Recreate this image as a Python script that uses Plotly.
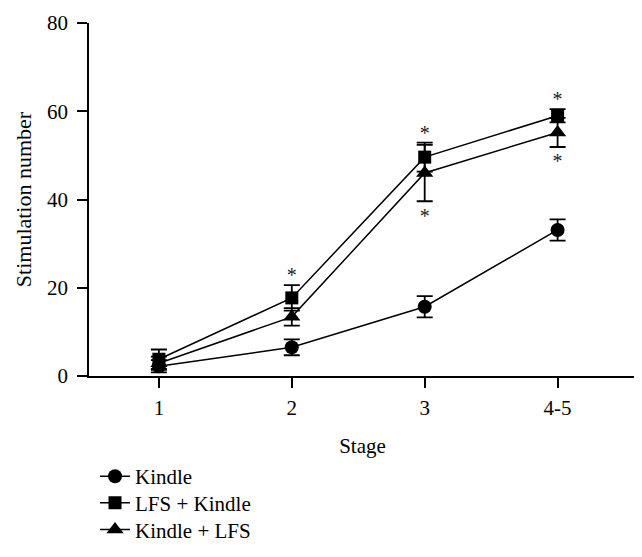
import plotly.graph_objects as go

stages = [1, 2, 3, 4]
stage_labels = ["1", "2", "3", "4-5"]

kindle = [2.2, 6.5, 15.7, 33.1]
kindle_err = [1.4, 1.8, 2.4, 2.4]
lfs_kindle = [3.8, 17.7, 49.6, 59.0]
lfs_kindle_err = [2.2, 2.9, 3.3, 1.5]
kindle_lfs = [2.9, 13.4, 46.0, 55.2]
kindle_lfs_err = [1.5, 2.0, 6.4, 3.3]

star_x = [2, 3, 3, 4, 4]
star_y = [22.5, 54.7, 35.9, 62.4, 48.2]

font = "Liberation Serif"
fig = go.Figure()

def add(name, y, err, symbol, size, legend):
    fig.add_trace(go.Scatter(
        x=stages, y=y, name=name, mode="lines+markers", legend=legend,
        line=dict(color="black", width=1.5),
        marker=dict(symbol=symbol, size=size, color="black"),
        error_y=dict(type="data", array=err, visible=True, color="black",
                     thickness=1.8, width=8),
    ))

add("Kindle", kindle, kindle_err, "circle", 14, "legend")
add("LFS + Kindle", lfs_kindle, lfs_kindle_err, "square", 13, "legend2")
add("Kindle + LFS", kindle_lfs, kindle_lfs_err, "triangle-up", 15, "legend3")

fig.add_trace(go.Scatter(
    x=star_x, y=star_y, mode="text", text=["*"] * len(star_x),
    textfont=dict(family=font, size=20, color="#222"), showlegend=False,
    hoverinfo="skip",
))

def leg(yv):
    return dict(x=0.011, y=yv, xanchor="left", yanchor="middle",
                font=dict(family=font, size=21, color="black"),
                bgcolor="rgba(0,0,0,0)")

fig.update_layout(
    width=634, height=549,
    margin=dict(l=81, r=6, t=15, b=176),
    paper_bgcolor="white", plot_bgcolor="white",
    font=dict(family=font, size=18, color="black"),
    showlegend=True,
    legend=leg(-0.285),
    legend2=leg(-0.360),
    legend3=leg(-0.436),
    xaxis=dict(range=[0.474, 4.59], tickvals=stages, ticktext=stage_labels,
               showgrid=False, zeroline=False, showline=True, linecolor="black",
               linewidth=1.5, ticks="outside", ticklen=10, tickwidth=1.5,
               tickcolor="black", automargin=False, ticklabelstandoff=2,
               title=dict(text="Stage", standoff=19,
                          font=dict(family=font, size=21, color="black")),
               tickfont=dict(family=font, size=21, color="black")),
    yaxis=dict(range=[0, 80], tickvals=[0, 20, 40, 60, 80], showgrid=False,
               zeroline=False, showline=True, linecolor="black", linewidth=1.5,
               ticks="outside", ticklen=10, tickwidth=1.5, tickcolor="black",
               automargin=False, ticklabelstandoff=5,
               title=dict(text="Stimulation number", standoff=9,
                          font=dict(family=font, size=22, color="black")),
               tickfont=dict(family=font, size=21, color="black")),
)

fig.write_html("out.html")
